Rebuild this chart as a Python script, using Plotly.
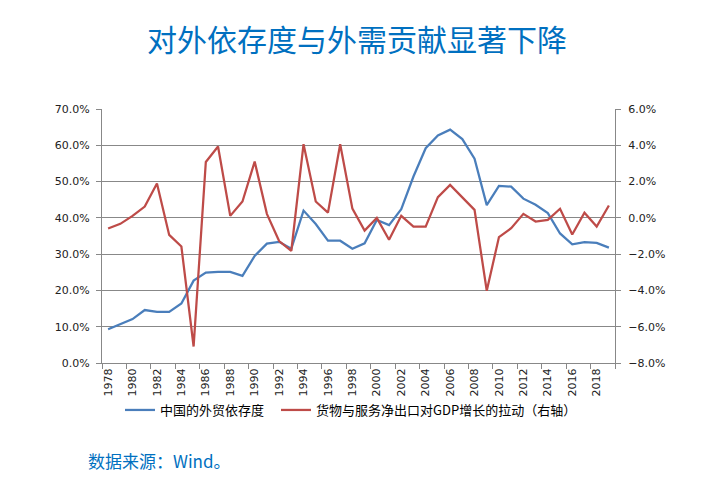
import plotly.graph_objects as go

years = list(range(1978, 2020))
trade_dependence = [9.3, 10.8, 12.1, 14.6, 14.1, 14.1, 16.4, 22.7, 24.9, 25.1,
                    25.1, 24.0, 29.5, 32.9, 33.4, 31.5, 42.0, 38.3, 33.7, 33.7,
                    31.5, 33.0, 39.4, 38.0, 42.4, 51.4, 59.2, 62.7, 64.3, 61.7,
                    56.3, 43.5, 48.8, 48.6, 45.3, 43.6, 41.3, 35.7, 32.7, 33.3,
                    33.1, 31.8]
net_export_pull = [-0.59, -0.33, 0.11, 0.62, 1.89, -0.94, -1.58, -7.09, 3.08, 3.93,
                   0.11, 0.90, 3.10, 0.22, -1.28, -1.82, 4.06, 0.90, 0.29, 4.06,
                   0.51, -0.70, 0.00, -1.21, 0.11, -0.48, -0.48, 1.14, 1.82, 1.12,
                   0.44, -4.02, -1.06, -0.57, 0.22, -0.20, -0.11, 0.50, -0.92, 0.28,
                   -0.48, 0.68]
year_ticks = years[::2]
left_ticks = [0.0, 0.1, 0.2, 0.3, 0.4, 0.5, 0.6, 0.7]
right_ticks = [-0.08, -0.06, -0.04, -0.02, 0.0, 0.02, 0.04, 0.06]

title_text = "对外依存度与外需贡献显著下降"
name_blue = "中国的外贸依存度"
name_red = "货物与服务净出口对GDP增长的拉动（右轴）"
source_text = "数据来源：Wind。"

cjk = "Noto Sans CJK SC"
num_font = "DejaVu Sans"
grid_col = "#888888"
blue = "#4A7EBB"
red = "#BE4B48"
title_blue = "#0070C0"

# page has an 8px body margin, so the figure is offset by 8px
W, H = 701, 475
L, R, T, B = 94, 94, 101, 120
plot_w = W - L - R
plot_h = H - T - B


def px(page_x):
    return (page_x - 8 - L) / plot_w


def py(page_y):
    return (H - B - (page_y - 8)) / plot_h


fig = go.Figure()
fig.add_trace(go.Scatter(x=years, y=[v / 100 for v in trade_dependence], mode="lines",
                         name=name_blue, line=dict(color=blue, width=2.25), yaxis="y",
                         legend="legend"))
fig.add_trace(go.Scatter(x=years, y=[v / 100 for v in net_export_pull], mode="lines",
                         name=name_red, line=dict(color=red, width=2.25), yaxis="y2",
                         legend="legend2"))

legend_common = dict(orientation="h", yanchor="middle", xanchor="left",
                     font=dict(family=cjk, size=13, color="#000000"),
                     bgcolor="rgba(0,0,0,0)")

fig.update_layout(
    width=W, height=H,
    margin=dict(l=L, r=R, t=T, b=B),
    paper_bgcolor="white", plot_bgcolor="white",
    title=dict(text=title_text, x=px(357), xref="paper", y=1 - (40 - 8) / H, yref="container",
               yanchor="middle", xanchor="center",
               font=dict(family=cjk, size=30, color=title_blue)),
    xaxis=dict(range=[1977.5, 2019.5], tickvals=year_ticks, ticktext=[str(y) for y in year_ticks],
               tickangle=-90, ticks="", showgrid=False, zeroline=False,
               showline=True, linecolor=grid_col, linewidth=1,
               tickfont=dict(family=num_font, size=11, color="#222222"),
               minor=dict(tick0=1977.5, dtick=2, ticks="outside", ticklen=5,
                          tickcolor=grid_col, showgrid=False)),
    yaxis=dict(range=[0, 0.7], tickvals=left_ticks, tickformat=".1%",
               showgrid=True, gridcolor=grid_col, gridwidth=1, zeroline=False,
               showline=True, linecolor=grid_col, linewidth=1,
               ticks="outside", ticklen=5, tickcolor=grid_col, ticklabelstandoff=4,
               tickfont=dict(family=num_font, size=11, color="#222222")),
    yaxis2=dict(range=[-0.08, 0.06], tickvals=right_ticks, tickformat=".1%",
                overlaying="y", side="right", showgrid=False, zeroline=False,
                showline=True, linecolor=grid_col, linewidth=1,
                ticks="outside", ticklen=5, tickcolor=grid_col, ticklabelstandoff=5,
                tickfont=dict(family=num_font, size=11, color="#222222")),
    legend=dict(x=px(120), y=py(410), **legend_common),
    legend2=dict(x=px(276), y=py(410), **legend_common),
    showlegend=True,
    hovermode=False,
)

fig.add_annotation(text=source_text, xref="paper", yref="paper",
                   x=px(86), y=py(460), xanchor="left", yanchor="middle",
                   showarrow=False, font=dict(family=cjk, size=17, color=title_blue))

fig.write_html("out.html")
